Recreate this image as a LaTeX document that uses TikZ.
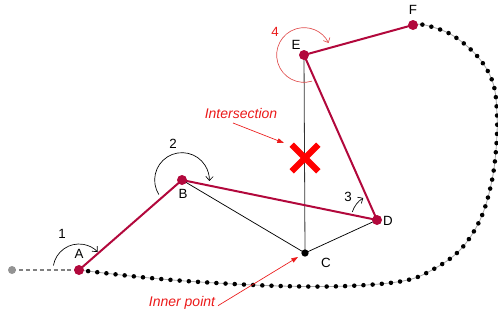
\documentclass[tikz,border=0pt]{standalone}
\usepackage{fontspec}
\setmainfont{Liberation Sans}
\usetikzlibrary{arrows.meta}
\definecolor{crim}{RGB}{178,8,60}
\definecolor{redtxt}{RGB}{235,25,25}
\definecolor{arcred}{RGB}{225,80,80}
\tikzset{
  vertex/.style={circle,fill=crim,inner sep=0pt,minimum size=7.5pt},
  innerdot/.style={circle,fill=black,inner sep=0pt,minimum size=5.5pt},
  startdot/.style={circle,fill=gray!85,inner sep=0pt,minimum size=6pt},
  edge/.style={crim,line width=1.5pt},
  thinedge/.style={black,line width=0.55pt},
  lbl/.style={font=\fontsize{10}{12}\selectfont,inner sep=0pt},
  note/.style={font=\fontsize{10.5}{12}\selectfont\itshape,text=redtxt,inner sep=0pt},
  turn/.style={black,line width=0.5pt,-{Straight Barb[length=3pt,width=5.5pt]}},
  noteline/.style={redtxt,line width=0.5pt,-{Triangle[length=5pt,width=3.5pt]}},
}
\begin{document}
\begin{tikzpicture}[x=0.75pt,y=-0.75pt]
\useasboundingbox (0,0) rectangle (498,325);
% coordinates
\coordinate (S) at (12,270);
\coordinate (A) at (79,270);
\coordinate (B) at (182,180);
\coordinate (C) at (305,253);
\coordinate (D) at (377,220);
\coordinate (E) at (304,55);
\coordinate (F) at (413,25);
\coordinate (X) at (305,158);
% dotted hull curve
\draw[gray!70,line width=0.6pt] plot[smooth,tension=0.6] coordinates {(A) (140,277) (200,282) (280,286) (347,286) (403,281) (432,270) (460,250) (480,220) (491,185) (496,150) (497,115) (493,83) (478,57) (452,35) (425,25) (F)};
\draw[black,line width=3.4pt,line cap=round,dash pattern=on 0pt off 6.9pt] plot[smooth,tension=0.6] coordinates {(A) (140,277) (200,282) (280,286) (347,286) (403,281) (432,270) (460,250) (480,220) (491,185) (496,150) (497,115) (493,83) (478,57) (452,35) (425,25) (F)};
% dashed start line
\draw[gray,line width=0.8pt,dash pattern=on 3pt off 2.2pt] (S) -- (A);
% thin edges
\draw[thinedge] (B) -- (C);
\draw[thinedge] (C) -- (D);
\draw[gray!40!black,line width=0.6pt] (C) -- (E);
% crimson path
\draw[edge] (A) -- (B);
\draw[edge] (B) -- (D);
\draw[edge] (D) -- (E);
\draw[edge] (E) -- (F);
% intersection cross
\draw[red,line width=4.6pt] ([shift={(-10pt,10pt)}]X) -- ([shift={(10pt,-10pt)}]X);
\draw[red,line width=4.6pt] ([shift={(-10pt,-10pt)}]X) -- ([shift={(10pt,10pt)}]X);
% turn arcs
\draw[turn] ([shift={(170:19.5pt)}]A) arc[start angle=170,end angle=44,radius=19.5pt];
\draw[turn] ([shift={(212:20.5pt)}]B) arc[start angle=212,end angle=-2,radius=20.5pt];
\draw[turn] ([shift={(162:19.5pt)}]D) arc[start angle=162,end angle=122,radius=19.5pt];
\draw[arcred,line width=0.5pt,-{Straight Barb[length=3pt,width=5.5pt]}] ([shift={(287:20.5pt)}]E) arc[start angle=287,end angle=26,radius=20.5pt];
% vertices
\node[startdot] (s) at (S) {};
\node[vertex] (a) at (A) {};
\node[vertex] (b) at (B) {};
\node[innerdot] (c) at (C) {};
\node[vertex] (d) at (D) {};
\node[vertex] (e) at (E) {};
\node[vertex] (f) at (F) {};
% labels
\node[lbl] (la) at (79,254) {A};
\node[lbl] (lb) at (183,194) {B};
\node[lbl] (lc) at (326,263) {C};
\node[lbl] (ld) at (388,221) {D};
\node[lbl] (le) at (296,45) {E};
\node[lbl] (lf) at (413,10) {F};
\node[lbl] (n1) at (62,234) {1};
\node[lbl] (n2) at (173,144) {2};
\node[lbl] (n3) at (348,197) {3};
\node[lbl,text=redtxt] (n4) at (275,32) {4};
% notes
\node[note] (inter) at (241,113) {Intersection};
\node[note] (inner) at (182,303) {Inner point};
\coordinate (interEnd) at (284,143);
\coordinate (innerEnd) at (298,257);
\draw[noteline] (233,123) -- (interEnd);
\draw[noteline] (inner.east) ++(2pt,-2pt) -- (innerEnd);
\end{tikzpicture}
\end{document}
